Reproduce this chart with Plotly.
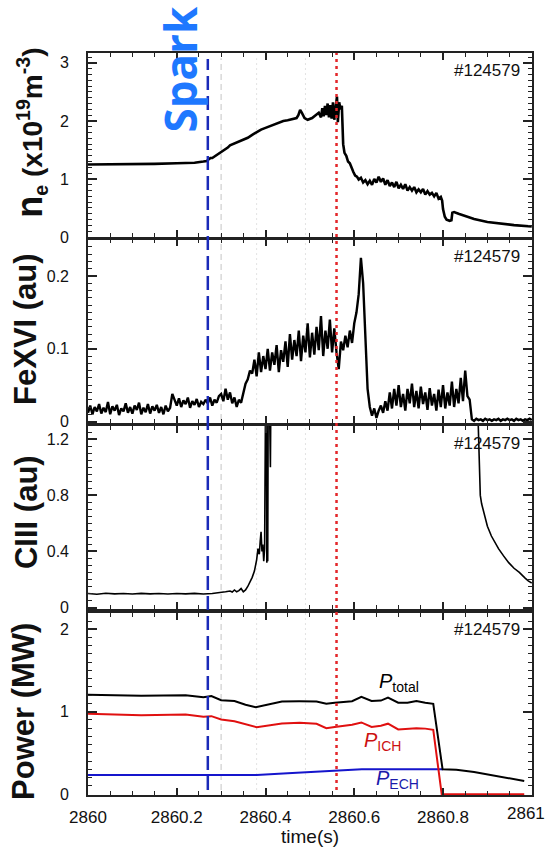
import plotly.graph_objects as go

T0 = 2860.0

# ---------------- data (time offsets from 2860 s) ----------------
ne_t = [0.000, 0.050, 0.100, 0.150, 0.200, 0.240, 0.260, 0.268, 0.272, 0.276, 0.280, 0.290,
        0.300, 0.310, 0.315, 0.320, 0.330, 0.340, 0.350, 0.360, 0.370, 0.380, 0.385, 0.390,
        0.400, 0.410, 0.420, 0.430, 0.440, 0.450, 0.460, 0.470, 0.474, 0.478, 0.482, 0.488,
        0.495, 0.505, 0.515, 0.520, 0.525, 0.528, 0.531, 0.534, 0.537, 0.540, 0.543, 0.546,
        0.549, 0.552, 0.555, 0.558, 0.561, 0.563, 0.566, 0.569, 0.572, 0.575, 0.578, 0.582,
        0.586, 0.590, 0.594, 0.598, 0.602, 0.606, 0.610, 0.615, 0.620, 0.625, 0.630, 0.635,
        0.640, 0.645, 0.650, 0.655, 0.660, 0.665, 0.670, 0.675, 0.680, 0.685, 0.690, 0.695,
        0.700, 0.705, 0.710, 0.715, 0.720, 0.725, 0.730, 0.735, 0.740, 0.745, 0.750, 0.755,
        0.760, 0.765, 0.770, 0.775, 0.780, 0.785, 0.790, 0.795, 0.798, 0.800, 0.804, 0.808,
        0.815, 0.819, 0.821, 0.825, 0.835, 0.850, 0.870, 0.900, 0.930, 0.960, 1.000]
ne_v = [1.25, 1.25, 1.26, 1.26, 1.27, 1.28, 1.30, 1.31, 1.34, 1.36, 1.36, 1.41,
        1.46, 1.51, 1.54, 1.58, 1.61, 1.64, 1.67, 1.71, 1.76, 1.81, 1.84, 1.85,
        1.88, 1.91, 1.94, 1.97, 2.00, 2.01, 2.03, 2.05, 2.10, 2.19, 2.14, 2.05,
        2.02, 2.05, 2.11, 2.14, 2.06, 2.22, 2.08, 2.26, 2.10, 2.30, 2.06, 2.27,
        2.04, 2.32, 2.02, 2.29, 2.42, 1.98, 2.32, 2.20, 2.26, 1.60, 1.45, 1.40,
        1.30, 1.27, 1.18, 1.12, 1.06, 1.04, 0.99, 1.02, 0.94, 0.98, 0.91, 0.97,
        0.90, 1.00, 0.94, 1.04, 0.95, 1.01, 0.90, 0.98, 0.88, 0.94, 0.86, 0.95,
        0.84, 0.90, 0.83, 0.91, 0.80, 0.86, 0.80, 0.86, 0.77, 0.82, 0.77, 0.83,
        0.73, 0.79, 0.73, 0.76, 0.70, 0.76, 0.66, 0.69, 0.63, 0.48, 0.35, 0.30,
        0.28, 0.29, 0.42, 0.43, 0.40, 0.36, 0.31, 0.26, 0.23, 0.205, 0.18]

# FeXVI sampled every 5 ms from 2860.000 s
fe_step = 0.005
fe_v = [0.012, 0.022, 0.010, 0.020, 0.014, 0.024, 0.011, 0.019, 0.013, 0.027,
        0.010, 0.021, 0.015, 0.023, 0.009, 0.018, 0.014, 0.025, 0.012, 0.020,
        0.011, 0.022, 0.016, 0.026, 0.010, 0.019, 0.013, 0.024, 0.011, 0.021,
        0.015, 0.023, 0.012, 0.020, 0.010, 0.022, 0.014, 0.019, 0.038, 0.030,
        0.022, 0.032, 0.020, 0.029, 0.024, 0.033, 0.019, 0.028, 0.023, 0.031,
        0.020, 0.027, 0.024, 0.030, 0.025, 0.033, 0.022, 0.030, 0.026, 0.035,
        0.038, 0.028, 0.045, 0.030, 0.040, 0.025, 0.033, 0.020, 0.030, 0.026,
        0.040, 0.052, 0.058, 0.070, 0.066, 0.085, 0.062, 0.095, 0.068, 0.090,
        0.072, 0.100, 0.070, 0.095, 0.078, 0.105, 0.068, 0.098, 0.082, 0.110,
        0.075, 0.120, 0.085, 0.112, 0.090, 0.125, 0.083, 0.118, 0.095, 0.135,
        0.088, 0.122, 0.092, 0.130, 0.098, 0.145, 0.090, 0.125, 0.100, 0.140,
        0.095, 0.128, 0.095, 0.072, 0.110, 0.098, 0.118, 0.102, 0.125, 0.108,
        0.135, 0.150, 0.175, 0.225, 0.190, 0.120, 0.045, 0.020, 0.008, 0.018,
        0.005, 0.015, 0.022, 0.012, 0.028, 0.015, 0.040, 0.018, 0.045, 0.022,
        0.050, 0.020, 0.038, 0.015, 0.045, 0.025, 0.052, 0.020, 0.042, 0.018,
        0.048, 0.024, 0.040, 0.016, 0.046, 0.022, 0.038, 0.015, 0.044, 0.020,
        0.050, 0.018, 0.040, 0.022, 0.055, 0.020, 0.045, 0.025, 0.060, 0.028,
        0.070, 0.035, 0.030, 0.003, 0.001, 0.004, 0.002, 0.003, 0.001, 0.004,
        0.002, 0.003, 0.001, 0.003, 0.002, 0.004, 0.001, 0.003, 0.002, 0.004,
        0.002, 0.003, 0.001, 0.004, 0.002, 0.003, 0.001, 0.003, 0.002, 0.004,
        0.002]

ciii_t = [0.00, 0.02, 0.04, 0.06, 0.08, 0.10, 0.12, 0.14, 0.16, 0.18, 0.20, 0.22, 0.24,
          0.26, 0.28, 0.30, 0.31, 0.32, 0.325, 0.33, 0.335, 0.34, 0.345, 0.35, 0.355,
          0.36, 0.365, 0.37, 0.375, 0.38, 0.383, 0.386, 0.388, 0.39, 0.392, 0.394, 0.396,
          0.398, 0.400, 0.401, 0.402, 0.403, 0.404, 0.405, 0.406, 0.409, 0.411, 0.412,
          None,
          0.878, 0.880, 0.882, 0.884, 0.887, 0.893, 0.900, 0.909, 0.917, 0.925, 0.936,
          0.948, 0.960, 0.972, 0.985, 0.992, 1.000]
ciii_v = [0.100, 0.095, 0.102, 0.097, 0.100, 0.096, 0.101, 0.097, 0.100, 0.096, 0.100,
          0.097, 0.101, 0.096, 0.100, 0.105, 0.112, 0.118, 0.110, 0.125, 0.112, 0.120,
          0.135, 0.112, 0.125, 0.150, 0.180, 0.215, 0.260, 0.340, 0.420, 0.380, 0.470,
          0.540, 0.400, 0.450, 0.330, 0.420, 1.450, 1.220, 1.450, 0.320, 0.400, 0.330,
          1.450, 1.450, 1.000, 1.450,
          None,
          1.450, 1.200, 0.920, 0.800, 0.740, 0.660, 0.580, 0.510, 0.460, 0.420, 0.370,
          0.320, 0.280, 0.250, 0.210, 0.190, 0.175]

ptot_t = [0.000, 0.120, 0.220, 0.260, 0.278, 0.300, 0.330, 0.355, 0.378, 0.405, 0.437,
          0.476, 0.515, 0.537, 0.556, 0.595, 0.616, 0.639, 0.660, 0.676, 0.699, 0.720,
          0.740, 0.760, 0.778, 0.799, 0.830, 0.870, 0.930, 0.983]
ptot_v = [1.207, 1.195, 1.200, 1.175, 1.190, 1.140, 1.130, 1.085, 1.055, 1.087, 1.125,
          1.127, 1.125, 1.096, 1.110, 1.127, 1.180, 1.130, 1.135, 1.170, 1.110, 1.110,
          1.130, 1.110, 1.096, 0.302, 0.295, 0.270, 0.210, 0.160]

pich_t = [0.000, 0.120, 0.220, 0.260, 0.278, 0.300, 0.330, 0.355, 0.380, 0.437, 0.477,
          0.515, 0.537, 0.556, 0.595, 0.616, 0.639, 0.660, 0.676, 0.699, 0.720, 0.740,
          0.760, 0.778, 0.797, 0.983]
pich_v = [0.974, 0.958, 0.966, 0.938, 0.946, 0.905, 0.885, 0.845, 0.813, 0.857, 0.865,
          0.853, 0.800, 0.815, 0.841, 0.870, 0.815, 0.830, 0.855, 0.785, 0.790, 0.800,
          0.795, 0.780, 0.000, 0.000]

pech_t = [0.000, 0.380, 0.450, 0.515, 0.562, 0.617, 0.800]
pech_v = [0.233, 0.233, 0.255, 0.274, 0.286, 0.302, 0.302]

x_tickvals = [2860.0, 2860.2, 2860.4, 2860.6, 2860.8, 2861.0]
x_ticktext = ['2860', '2860.2', '2860.4', '2860.6', '2860.8', '2861']

spark_t = 0.27
red_t = 0.56
gray_dash_t = 0.30
gray_dot_t = [0.38, 0.49]

y_titles = ['<span style="font-size:36px">n</span><sub>e</sub> (x10<sup>19</sup>m<sup>-3</sup>)',
            'FeXVI (au)', 'CIII (au)', 'Power (MW)']
shot_label = '#124579'


def tx(ts):
    return [None if t is None else T0 + t for t in ts]


fig = go.Figure()
fig.add_trace(go.Scatter(x=tx(ne_t), y=ne_v, mode='lines', xaxis='x', yaxis='y',
                         line=dict(color='black', width=2.6), showlegend=False))
fe_t = [T0 + fe_step * i for i in range(len(fe_v))]
fig.add_trace(go.Scatter(x=fe_t, y=fe_v, mode='lines', xaxis='x2', yaxis='y2',
                         line=dict(color='black', width=2.4), showlegend=False))
fig.add_trace(go.Scatter(x=tx(ciii_t), y=ciii_v, mode='lines', xaxis='x3', yaxis='y3',
                         line=dict(color='black', width=1.6), connectgaps=False,
                         showlegend=False))
fig.add_trace(go.Scatter(x=tx(pech_t), y=pech_v, mode='lines', xaxis='x4', yaxis='y4',
                         line=dict(color='#1515cc', width=2), showlegend=False))
fig.add_trace(go.Scatter(x=tx(pich_t), y=pich_v, mode='lines', xaxis='x4', yaxis='y4',
                         line=dict(color='#e01010', width=2), showlegend=False))
fig.add_trace(go.Scatter(x=tx(ptot_t), y=ptot_v, mode='lines', xaxis='x4', yaxis='y4',
                         line=dict(color='black', width=2), showlegend=False))

AX = '#222222'
TF = dict(family='Liberation Sans, Arial, sans-serif', size=16, color='#111111')
TFX = dict(family='Liberation Sans, Arial, sans-serif', size=17, color='#111111')

# the last label sits at the page edge; plotly hides it, so it is written as an annotation
x_ticktext_axis = x_ticktext[:-1] + ['']


def xax(show, anchor):
    d = dict(range=[2860, 2861.0005], tickmode='array', tickvals=x_tickvals,
             ticktext=x_ticktext_axis, ticks='inside', ticklen=7,
             tickwidth=1.5, tickcolor=AX, showline=True, linecolor=AX, linewidth=1.6,
             mirror='ticks', showgrid=False, zeroline=False, showticklabels=show,
             anchor=anchor, tickfont=TFX, ticklabelstandoff=6, automargin=False,
             minor=dict(tick0=2860, dtick=0.05, ticks='inside', ticklen=4, tickwidth=1.2,
                        tickcolor=AX))
    if anchor != 'y':
        d['matches'] = 'x'
    return d


def yax(rng, dtick, mdtick, dom, anchor):
    return dict(range=rng, dtick=dtick, tick0=0, ticks='inside', ticklen=9, tickwidth=1.5,
                tickcolor=AX, showline=True, linecolor=AX, linewidth=1.6, mirror='ticks',
                showgrid=False, zeroline=False, domain=dom, anchor=anchor, tickfont=TF,
                ticklabelstandoff=14, automargin=False,
                minor=dict(tick0=0, dtick=mdtick, ticks='inside', ticklen=4, tickwidth=1.2,
                           tickcolor=AX))


doms = [[0.7520, 1.0], [0.5013, 0.7486], [0.2508, 0.4973], [0.0, 0.2456]]

fig.update_layout(
    width=549, height=848,
    margin=dict(l=88, r=17, t=53, b=53),
    paper_bgcolor='white', plot_bgcolor='white',
    xaxis=xax(False, 'y'), xaxis2=xax(False, 'y2'), xaxis3=xax(False, 'y3'),
    xaxis4=xax(True, 'y4'),
    yaxis=yax([0, 3.17], 1, 0.1, doms[0], 'x'),
    yaxis2=yax([-0.002, 0.25], 0.1, 0.01, doms[1], 'x2'),
    yaxis3=yax([-0.01, 1.295], 0.4, 0.05, doms[2], 'x3'),
    yaxis4=yax([-0.01, 2.2], 1, 0.1, doms[3], 'x4'),
    showlegend=False,
)

shapes = []
ybot, ytop = 0.0067, 0.993
shapes.append(dict(type='line', xref='x', yref='paper', x0=T0 + gray_dash_t, x1=T0 + gray_dash_t,
                   y0=ybot, y1=ytop, layer='below',
                   line=dict(color='#d8d8d8', width=1.5, dash='6px,4px')))
for g in gray_dot_t:
    shapes.append(dict(type='line', xref='x', yref='paper', x0=T0 + g, x1=T0 + g,
                       y0=ybot, y1=ytop, layer='below',
                       line=dict(color='#e2e2e2', width=1, dash='2px,3px')))
shapes.append(dict(type='line', xref='x', yref='paper', x0=T0 + spark_t, x1=T0 + spark_t,
                   y0=ybot, y1=0.992, layer='above',
                   line=dict(color='#1a2ab8', width=2.5, dash='14px,6px')))
shapes.append(dict(type='line', xref='x', yref='paper', x0=T0 + red_t, x1=T0 + red_t,
                   y0=ybot, y1=1.0, layer='above',
                   line=dict(color='#e3262a', width=2.5, dash='3px,4px')))
fig.update_layout(shapes=shapes)

ann = []
TFONT = dict(family='Liberation Sans, Arial, sans-serif', color='#111111')
title_pos = [(-0.13, 0.893, 28), (-0.142, 0.628, 31), (-0.138, 0.381, 31), (-0.144, 0.112, 31)]
for txt, (xp, yp, fs) in zip(y_titles, title_pos):
    ann.append(dict(text='<b>' + txt + '</b>', xref='paper', yref='paper', x=xp, y=yp,
                    textangle=-90, showarrow=False, xanchor='center', yanchor='middle',
                    font=dict(size=fs, **TFONT)))
for dom in doms:
    ytop_px = 795 - dom[1] * 742 + 17
    ann.append(dict(text=shot_label, xref='paper', yref='paper', x=0.977,
                    y=(795 - ytop_px) / 742, xanchor='right', yanchor='middle',
                    showarrow=False, font=dict(size=17, **TFONT)))
# last x tick label, kept just inside the page edge
ann.append(dict(text=x_ticktext[-1], xref='paper', yref='paper', x=(547 - 88) / 444,
                y=(795 - 813) / 742, xanchor='right', yanchor='middle', showarrow=False,
                font=dict(size=17, **TFONT)))
ann.append(dict(text='time(s)', xref='paper', yref='paper', x=0.5, y=-0.056,
                xanchor='center', yanchor='middle', showarrow=False,
                font=dict(size=19, **TFONT)))
ann.append(dict(text='<b>Spark</b>', xref='paper', yref='paper', x=0.2072, y=0.979,
                xanchor='center', yanchor='middle', textangle=-90, showarrow=False,
                font=dict(family='Open Sans, sans-serif', size=44, color='#1E78FF')))
# power labels
ann.append(dict(text='<i>P</i><sub>total</sub>', xref='x4', yref='y4', x=2860.652, y=1.35,
                xanchor='left', yanchor='middle', showarrow=False,
                font=dict(size=20, family='Liberation Sans, Arial, sans-serif', color='black')))
ann.append(dict(text='<i>P</i><sub>ICH</sub>', xref='x4', yref='y4', x=2860.617, y=0.64,
                xanchor='left', yanchor='middle', showarrow=False,
                font=dict(size=20, family='Liberation Sans, Arial, sans-serif', color='#cc1111')))
ann.append(dict(text='<i>P</i><sub>ECH</sub>', xref='x4', yref='y4', x=2860.645, y=0.18,
                xanchor='left', yanchor='middle', showarrow=False,
                font=dict(size=20, family='Liberation Sans, Arial, sans-serif', color='#1a1aaa')))
fig.update_layout(annotations=ann)

fig.write_html('out.html')
